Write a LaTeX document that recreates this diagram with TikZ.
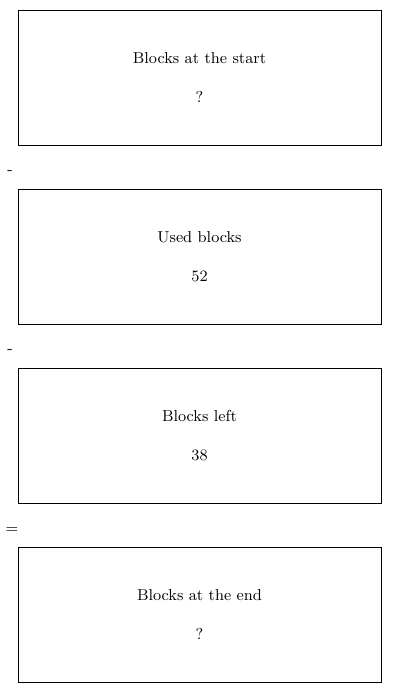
\documentclass[tikz,border=0pt]{standalone}
\usepackage{tikz}
\usetikzlibrary{positioning}
\tikzset{
    % Box holding one quantity
    qtybox/.style={
        draw=black,
        line width=0.5pt,
        minimum width=7.26cm,
        minimum height=2.7cm,
        align=center,
        font=\small
    },
    % Operator sign between boxes
    opnode/.style={
        inner sep=0pt,
        font=\small
    }
}
\begin{document}
\begin{tikzpicture}[x=0.02cm,y=-0.02cm]
    \useasboundingbox (0,0) rectangle (400,693);
    \node[qtybox] (bstart) at (199.5,77.5) {Blocks at the start\\[11pt]?};
    \node[qtybox] (bused) at (199.5,256.5) {Used blocks\\[11pt]52};
    \node[qtybox] (bleft) at (199.5,435.5) {Blocks left\\[11pt]38};
    \node[qtybox] (bend) at (199.5,614.5) {Blocks at the end\\[11pt]?};

    \node[opnode] (op1) at (10,172.5) {-};
    \node[opnode] (op2) at (10,351.5) {-};
    \node[opnode] (op3) at (12,530.5) {=};
\end{tikzpicture}
\end{document}
